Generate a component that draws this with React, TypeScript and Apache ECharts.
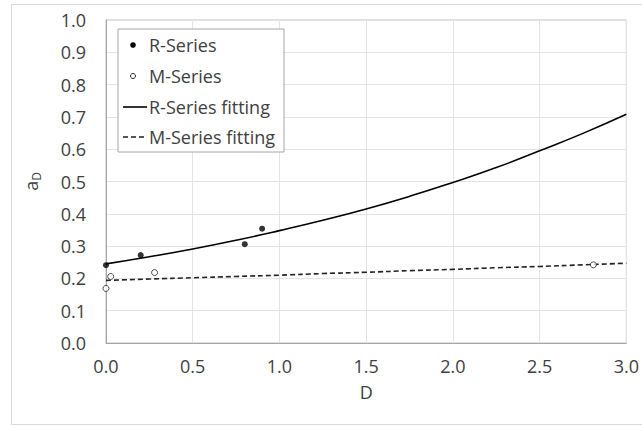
import React, { useEffect, useRef } from "react";
import * as echarts from "echarts";

const rSeriesX = [0, 0.2, 0.8, 0.9];
const rSeriesY = [0.241, 0.272, 0.306, 0.354];
const mSeriesX = [0, 0.027, 0.28, 2.81];
const mSeriesY = [0.169, 0.206, 0.218, 0.242];
const fitX = [0, 0.25, 0.5, 0.75, 1.0, 1.25, 1.5, 1.75, 2.0, 2.25, 2.5, 2.75, 3.0];
const rFitY = [0.245, 0.267, 0.291, 0.318, 0.348, 0.38, 0.415, 0.454, 0.497, 0.543, 0.595, 0.649, 0.708];
const mFitY = [0.194, 0.198, 0.202, 0.206, 0.21, 0.215, 0.219, 0.224, 0.228, 0.233, 0.237, 0.242, 0.247];
const legendNames = ["R-Series", "M-Series", "R-Series fitting", "M-Series fitting"];

const FONT = "'Open Sans', sans-serif";
const TXT = "#404040";

export default function App() {
  const ref = useRef<HTMLDivElement>(null);
  useEffect(() => {
    const chart = echarts.init(ref.current!, null, { renderer: "svg" });
    const zip = (xs: number[], ys: number[]) => xs.map((x, i) => [x, ys[i]]);
    const lx = 118, ly = 29, lw = 166, lh = 123;
    const rows = [45, 76, 107, 137];
    chart.setOption({
      animation: false,
      textStyle: { fontFamily: FONT },
      grid: { left: 106, top: 20, right: 14, bottom: 83, show: true, borderColor: "#bfbfbf", borderWidth: 1 },
      xAxis: {
        type: "value", min: 0, max: 3, interval: 0.5,
        name: "D", nameLocation: "middle", nameGap: 40,
        nameTextStyle: { fontSize: 18, color: TXT, fontFamily: FONT },
        axisLine: { show: true, lineStyle: { color: "#a6a6a6", width: 1 } },
        axisTick: { show: false },
        axisLabel: { fontSize: 18, color: TXT, fontFamily: FONT, margin: 14, formatter: (v: number) => v.toFixed(1) },
        splitLine: { show: true, lineStyle: { color: "#e3e3e3", width: 1 } },
      },
      yAxis: {
        type: "value", min: 0, max: 1, interval: 0.1,
        name: "{a|a}{s|D}", nameLocation: "middle", nameGap: 64, nameRotate: 90,
        nameTextStyle: {
          color: TXT, fontFamily: FONT,
          rich: {
            a: { fontSize: 18, color: TXT, fontFamily: FONT, lineHeight: 22, verticalAlign: "middle" },
            s: { fontSize: 12, color: TXT, fontFamily: FONT, lineHeight: 12, verticalAlign: "bottom" },
          },
        },
        axisLine: { show: true, lineStyle: { color: "#a6a6a6", width: 1 } },
        axisTick: { show: false },
        axisLabel: { fontSize: 18, color: TXT, fontFamily: FONT, margin: 20, formatter: (v: number) => v.toFixed(1) },
        splitLine: { show: true, lineStyle: { color: "#e3e3e3", width: 1 } },
      },
      series: [
        {
          name: legendNames[2], type: "line", data: zip(fitX, rFitY), smooth: true, showSymbol: false,
          lineStyle: { color: "#000", width: 1.6 }, z: 2,
        },
        {
          name: legendNames[3], type: "line", data: zip(fitX, mFitY), smooth: true, showSymbol: false,
          lineStyle: { color: "#222", width: 1.6, type: [5, 3] }, z: 2,
        },
        {
          name: legendNames[0], type: "scatter", data: zip(rSeriesX, rSeriesY), symbol: "circle", symbolSize: 6,
          itemStyle: { color: "#000" }, z: 3,
        },
        {
          name: legendNames[1], type: "scatter", data: zip(mSeriesX, mSeriesY), symbol: "circle", symbolSize: 6,
          itemStyle: { color: "#fff", borderColor: "#222", borderWidth: 1 }, z: 3,
        },
      ],
      graphic: [
        { type: "rect", left: 9, top: 2, shape: { x: 0, y: 0, width: 632, height: 420 }, style: { fill: "none", stroke: "#d9d9d9", lineWidth: 1 }, silent: true, z: 0 },
        { type: "rect", shape: { x: lx, y: ly, width: lw, height: lh }, style: { fill: "#fff", stroke: "#a6a6a6", lineWidth: 1 }, z: 10 },
        { type: "circle", shape: { cx: 133, cy: rows[0], r: 2.8 }, style: { fill: "#000" }, z: 11 },
        { type: "circle", shape: { cx: 133, cy: rows[1], r: 2.5 }, style: { fill: "#fff", stroke: "#222", lineWidth: 1 }, z: 11 },
        { type: "line", shape: { x1: 123, y1: rows[2], x2: 147, y2: rows[2] }, style: { stroke: "#000", lineWidth: 1.6 }, z: 11 },
        { type: "line", shape: { x1: 123, y1: rows[3], x2: 147, y2: rows[3] }, style: { stroke: "#222", lineWidth: 1.6, lineDash: [5, 3] }, z: 11 },
        ...legendNames.map((n, i) => ({
          type: "text", x: 149, y: rows[i], z: 11,
          style: { text: n, fontSize: 18, fontFamily: FONT, fill: TXT, textVerticalAlign: "middle", verticalAlign: "middle" },
        })),
      ],
    });
    return () => chart.dispose();
  }, []);
  return <div ref={ref} style={{ position: "absolute", left: 0, top: 0, width: 642, height: 426 }} />;
}
